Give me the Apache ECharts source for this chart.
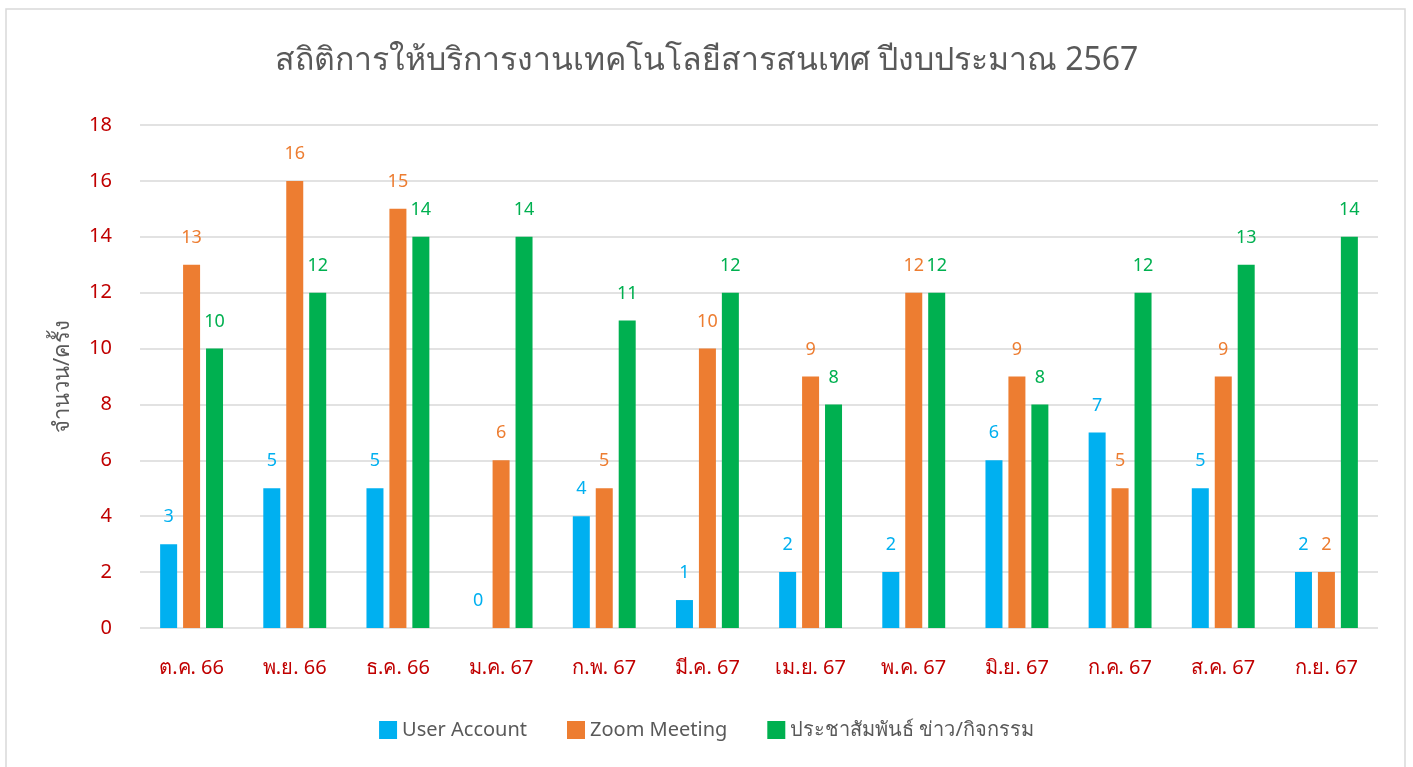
<!DOCTYPE html>
<html>
<head>
<meta charset="utf-8">
<script src="https://cdn.jsdelivr.net/npm/echarts@6/dist/echarts.min.js"></script>
<style>
  html, body { margin: 0; padding: 0; background: #fff; }
  #chart { width: 1413px; height: 767px; }
</style>
</head>
<body>
<div id="chart"></div>
<script>
const months = ["ต.ค. 66", "พ.ย. 66", "ธ.ค. 66", "ม.ค. 67", "ก.พ. 67", "มี.ค. 67", "เม.ย. 67", "พ.ค. 67", "มิ.ย. 67", "ก.ค. 67", "ส.ค. 67", "ก.ย. 67"];
const userAccount = [3, 5, 5, 0, 4, 1, 2, 2, 6, 7, 5, 2];
const zoomMeeting = [13, 16, 15, 6, 5, 10, 9, 12, 9, 5, 9, 2];
const publicRelations = [10, 12, 14, 14, 11, 12, 8, 12, 8, 12, 13, 14];
const seriesNames = ["User Account", "Zoom Meeting", "ประชาสัมพันธ์ ข่าว/กิจกรรม"];
const colors = ["#00B0F0", "#ED7D31", "#00B050"];

const font = "'Noto Sans', 'DejaVu Sans', sans-serif";

const chart = echarts.init(document.getElementById("chart"));

const makeSeries = (name, data, color) => ({
    name: name,
    type: "bar",
    data: data,
    barWidth: 17,
    barGap: "35%",
    itemStyle: { color: color },
    label: {
        show: true,
        position: "top",
        distance: 18,
        color: color,
        fontSize: 18,
        fontFamily: font
    }
});

chart.setOption({
    animation: false,
    textStyle: { fontFamily: font },
    graphic: [{
        type: "rect",
        shape: { x: 6, y: 9, width: 1399, height: 780 },
        style: { fill: "none", stroke: "#d9d9d9", lineWidth: 1.5 },
        silent: true
    }],
    title: {
        text: "สถิติการให้บริการงานเทคโนโลยีสารสนเทศ ปีงบประมาณ 2567",
        left: "center",
        top: 40,
        textStyle: { color: "#595959", fontSize: 32, fontWeight: "normal", fontFamily: font }
    },
    legend: {
        bottom: 22,
        left: "center",
        itemWidth: 18,
        itemHeight: 18,
        itemGap: 40,
        icon: "rect",
        textStyle: { color: "#595959", fontSize: 20, fontFamily: font }
    },
    grid: { left: 140, right: 35, top: 125, bottom: 139, containLabel: false },
    xAxis: {
        type: "category",
        data: months,
        axisLine: { show: false },
        axisTick: { show: false },
        axisLabel: { color: "#C00000", fontSize: 20, margin: 30, fontFamily: font }
    },
    yAxis: {
        type: "value",
        min: 0,
        max: 18,
        interval: 2,
        name: "จำนวน/ครั้ง",
        nameLocation: "middle",
        nameGap: 66,
        nameRotate: 90,
        nameTextStyle: { color: "#595959", fontSize: 22, fontFamily: font },
        axisLine: { show: false },
        axisTick: { show: false },
        axisLabel: { color: "#C00000", fontSize: 20, margin: 28, fontFamily: font },
        splitLine: { lineStyle: { color: "#d9d9d9", width: 1.5 } }
    },
    series: [
        makeSeries(seriesNames[0], userAccount, colors[0]),
        makeSeries(seriesNames[1], zoomMeeting, colors[1]),
        makeSeries(seriesNames[2], publicRelations, colors[2])
    ]
});
</script>
</body>
</html>
